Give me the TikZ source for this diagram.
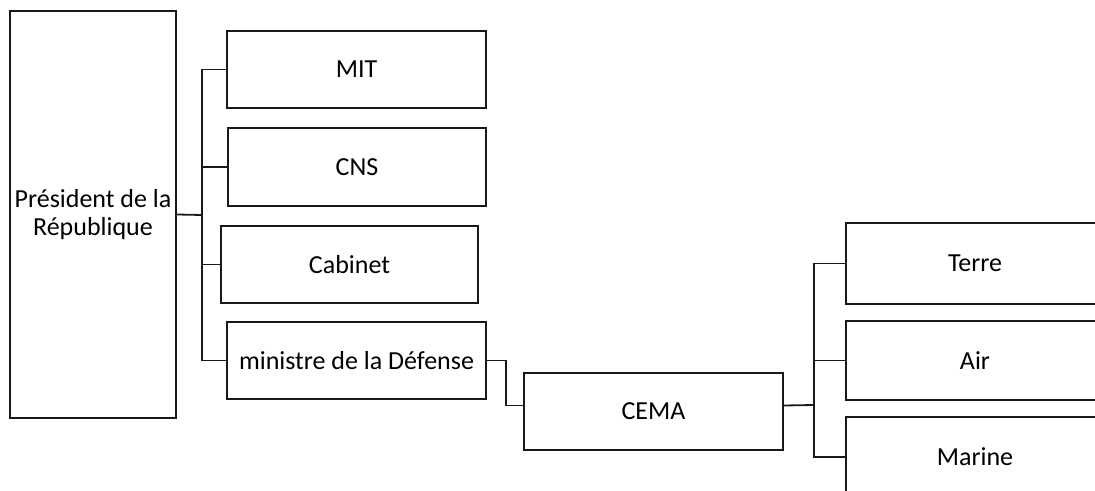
\documentclass[tikz,border=0pt]{standalone}
\usepackage{fontspec}
\setmainfont{Carlito}
\begin{document}
\begin{tikzpicture}[x=0.75pt,y=-0.75pt,
  box/.style={draw=black!90,line width=1.4pt,rectangle,inner sep=0pt,align=center,
    font=\fontsize{19.5}{20.5}\selectfont},
  openbox/.style={box,draw=none},
  edge3/.style={draw=black!90,line width=1.4pt},
  link/.style={draw=black!90,line width=1.35pt}]
\useasboundingbox (0,0) rectangle (1095,491);
\clip (0,0) rectangle (1095,491);
\node[box,minimum width=124.5pt,minimum height=305.25pt] (pres) at (93,214.5) {Président de la\\République};
\node[box,minimum width=194.25pt,minimum height=57.75pt] (mit) at (356.5,69.5) {MIT};
\node[box,minimum width=193.5pt,minimum height=58.5pt] (cns) at (357,167) {CNS};
\node[box,minimum width=192.75pt,minimum height=57.75pt] (cab) at (349.5,264.5) {Cabinet};
\node[box,minimum width=194.25pt,minimum height=57.75pt] (min) at (356.5,360.5) {ministre de la Défense};
\node[box,minimum width=194.25pt,minimum height=57.75pt] (cema) at (653.5,411.5) {CEMA};
\node[openbox,minimum width=186.75pt,minimum height=59.25pt] (terre) at (971.5,263.5) {\hspace*{5.25pt}Terre};
\node[openbox,minimum width=186.75pt,minimum height=57.75pt] (air) at (971.5,360.5) {\hspace*{5.25pt}Air};
\node[openbox,minimum width=186.75pt,minimum height=58.5pt] (marine) at (971.5,457) {\hspace*{5.25pt}Marine};
\foreach \b in {terre,air,marine}
  \draw[edge3] (\b.north east) -- (\b.north west) -- (\b.south west) -- (\b.south east);
\coordinate (b1) at (202,215);
\coordinate (b2) at (814,405);
\draw[link] (pres.east) -- (b1);
\draw[link] (mit.west) -| (b1);
\draw[link] (cns.west) -| (b1);
\draw[link] (cab.west) -| (b1);
\draw[link] (min.west) -| (b1);
\draw[link] (min.east) -- ++(19,0) |- ([yshift=4.5pt]cema.west);
\draw[link] ([yshift=4.5pt]cema.east) -- (b2);
\draw[link] (terre.west) -| (b2);
\draw[link] (air.west) -| (b2);
\draw[link] (marine.west) -| (b2);
\end{tikzpicture}
\end{document}
